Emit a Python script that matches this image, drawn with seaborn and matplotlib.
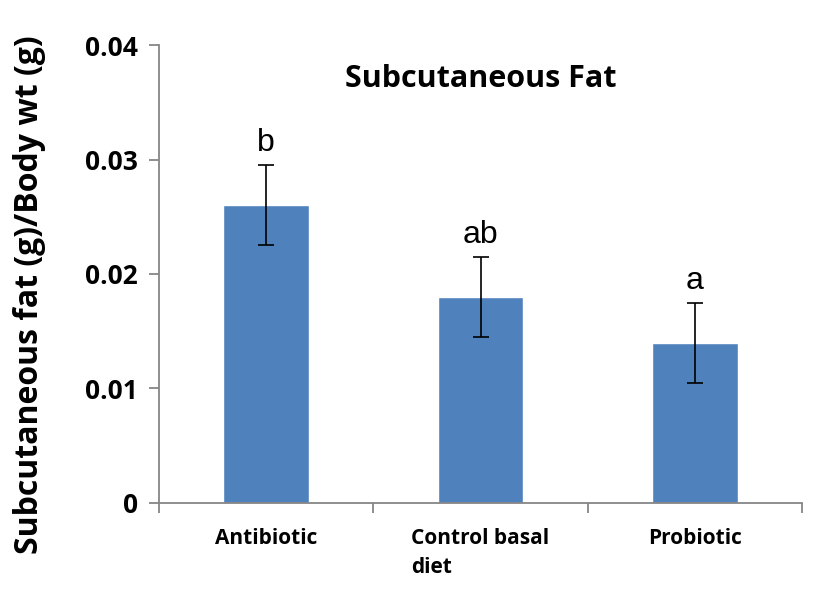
import numpy as np
import pandas as pd
import matplotlib
matplotlib.use("Agg")
import matplotlib.pyplot as plt
import seaborn as sns

## Data
groups = ["Antibiotic", "Control basal\ndiet", "Probiotic"]
fat_ratio = [0.026, 0.018, 0.014]
fat_err = [0.0035, 0.0035, 0.0035]
letters = ["b", "ab", "a"]

df = pd.DataFrame({"group": groups, "ratio": fat_ratio})

sns.set_style("white")
plt.rcParams["font.family"] = ["Open Sans", "DejaVu Sans"]
plt.rcParams["text.color"] = "black"
plt.rcParams["axes.labelcolor"] = "black"
plt.rcParams["xtick.labelcolor"] = "black"
plt.rcParams["ytick.labelcolor"] = "black"

fig = plt.figure(figsize=(8.27, 5.93), dpi=100)
ax = fig.add_axes([0.1923, 0.1518, 0.7775, 0.7723])

sns.barplot(data=df, x="group", y="ratio", color="#4F81BD", saturation=1,
            width=0.4, errorbar=None, ax=ax)

ax.errorbar(np.arange(len(groups)), fat_ratio, yerr=fat_err, fmt="none",
            ecolor="black", elinewidth=1.2, capsize=6, capthick=1.2)

for i, (v, e, lt) in enumerate(zip(fat_ratio, fat_err, letters)):
    ax.annotate(lt, (i, v + e), xytext=(0, 5), textcoords="offset points",
                ha="center", va="bottom", fontsize=23, color="black",
                family="Liberation Sans")

ax.text(0.5, 0.925, "Subcutaneous Fat", transform=ax.transAxes,
        ha="center", va="center", fontsize=22, fontweight="bold", color="black")

ax.set_xlim(-0.5, 2.5)
ax.set_ylim(0, 0.04)
ax.set_yticks([0, 0.01, 0.02, 0.03, 0.04])
ax.set_yticklabels(["0", "0.01", "0.02", "0.03", "0.04"])

for s in ["top", "right"]:
    ax.spines[s].set_visible(False)
for s in ["left", "bottom"]:
    ax.spines[s].set_color("#868686")
    ax.spines[s].set_linewidth(1.3)

ax.tick_params(axis="y", direction="out", length=7, width=1.3, color="#868686",
               labelsize=19, pad=8, left=True, labelcolor="black")
for lab in ax.get_yticklabels():
    lab.set_fontweight("bold")

ax.set_xticks([-0.5, 0.5, 1.5, 2.5], minor=True)
ax.tick_params(axis="x", which="minor", direction="out", length=7, width=1.3,
               color="#868686", bottom=True)
ax.tick_params(axis="x", which="major", length=0, labelsize=15, pad=18,
               labelcolor="black")
for lab in ax.get_xticklabels():
    lab.set_fontweight("bold")
    lab.set_multialignment("left")
    lab.set_linespacing(1.5)

ax.set_xlabel("")
ax.set_ylabel("Subcutaneous fat (g)/Body wt (g)", fontsize=23,
              fontweight="bold", color="black")
ax.yaxis.set_label_coords(-0.176, 0.455)

fig.savefig("out.png", dpi=100)
